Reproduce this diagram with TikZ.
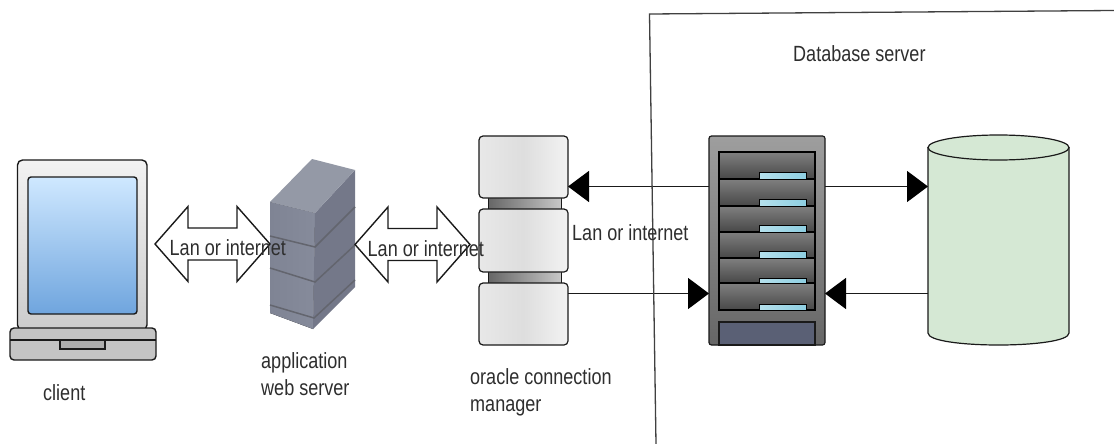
\documentclass[tikz,border=0pt]{standalone}
\usepackage{fontspec}
\setmainfont[FakeStretch=0.82]{Liberation Sans}
\usetikzlibrary{arrows.meta,calc}
\definecolor{lbl}{HTML}{2E2E2E}
\definecolor{ink}{HTML}{1A1A1A}
\definecolor{cylgreen}{HTML}{D5E8D4}
\definecolor{scrT}{HTML}{CFE8FF}
\definecolor{scrB}{HTML}{6FA5DE}
\definecolor{srvTop}{HTML}{9499A6}
\definecolor{srvFrontL}{HTML}{7F8494}
\definecolor{srvFrontR}{HTML}{868B9B}
\definecolor{srvSide}{HTML}{747889}
\definecolor{srvBand}{HTML}{63656E}
\definecolor{ledL}{HTML}{B5E0EC}
\definecolor{ledR}{HTML}{8ECFE2}
\definecolor{panelc}{HTML}{5A6075}
\tikzset{
  txt/.style={font=\fontsize{22}{27}\selectfont, text=lbl, inner sep=0pt, align=left},
  box/.style={rectangle, inner sep=0pt, outer sep=0pt, anchor=north west},
  cblock/.style={box, draw=ink, line width=1.2pt, rounded corners=4pt, left color=black!9, right color=black!5, middle color=black!13, minimum width=89pt},
  cneck/.style={box, draw=ink, line width=1pt, left color=black!60, right color=black!22, minimum width=73pt},
  slot/.style={box, draw=black, line width=1.1pt, top color=black!50, bottom color=black!72, minimum width=96pt},
  led/.style={box, draw=black, line width=1pt, left color=ledL, right color=ledR, minimum width=47pt, minimum height=7pt},
  link/.style={draw=ink, line width=1.5pt, -{Triangle[length=21pt,width=31pt,color=black]}, shorten >=0pt},
  dblbox/.style={box, minimum width=115pt, minimum height=75pt},
  dblline/.style={draw=ink, fill=white, line width=1.4pt, line join=miter},
}
\newcommand{\dblarrow}[1]{%
  \path[dblline] (#1.west) -- ++(33,-37.5) -- ++(0,21.5) -- ($(#1.east)+(-33,-16)$) -- ++(0,-21.5) -- (#1.east)
     -- ++(-33,37.5) -- ++(0,-21.5) -- ($(#1.west)+(33,16)$) -- ++(0,21.5) -- cycle;}
\begin{document}
\begin{tikzpicture}[x=1pt,y=-1pt]
\useasboundingbox (0,0) rectangle (1114,444);
\fill[white] (0,0) rectangle (1114,444);

% laptop
\node[box, draw=ink, line width=1.4pt, rounded corners=5pt, top color=black!5, bottom color=black!20, minimum width=129.5pt, minimum height=170pt] (lid) at (17.5,160) {};
\node[box, draw=ink, line width=1.4pt, rounded corners=3pt, top color=scrT, bottom color=scrB, minimum width=109pt, minimum height=137pt] (screen) at (28,177) {};
\node[box, draw=ink, line width=1.4pt, rounded corners=4pt, fill=black!23, minimum width=146pt, minimum height=32pt] (base) at (10,328) {};
\coordinate (baseLine) at (0,340);
\draw[ink, line width=1.4pt] (base.west |- baseLine) -- (base.east |- baseLine);
\node[box, draw=ink, line width=1.1pt, fill=black!32, minimum width=45pt, minimum height=9pt] (notch) at (60,340) {};

% application server
\coordinate (sA) at (270,202); \coordinate (sB) at (315,213); \coordinate (sC) at (355,170); \coordinate (sD) at (312,159);
\coordinate (sE) at (270,313); \coordinate (sF) at (313,329); \coordinate (sG) at (355,287);
\fill[left color=srvFrontL, right color=srvFrontR] (sA) -- (sB) -- (sF) -- (sE) -- cycle;
\fill[srvSide] (sB) -- (sC) -- (sG) -- (sF) -- cycle;
\fill[srvTop] (sA) -- (sD) -- (sC) -- (sB) -- cycle;
\draw[srvBand, line width=1.5pt] (270,236) -- (315,247) -- (355,207);
\draw[srvBand, line width=1.5pt] (270,268) -- (315,282) -- (355,245);
\draw[srvBand, line width=1.5pt] (270,305) -- (314,318) -- (355,280);

% oracle connection manager
\node[cneck, minimum height=13pt] (n1) at (488,197) {};
\node[cneck, minimum height=13pt] (n2) at (488,271) {};
\node[cblock, minimum height=62pt] (ocmT) at (479,136) {};
\node[cblock, minimum height=63pt] (ocmM) at (479,209) {};
\node[cblock, minimum height=62pt] (ocmB) at (479,283) {};

% rack
\node[box, draw=ink, line width=1.2pt, rounded corners=2.5pt, top color=black!38, bottom color=black!60, minimum width=116pt, minimum height=209pt] (rack) at (709,136) {};
\node[slot, minimum height=27pt] (s1) at (719,152) {};
\node[slot, minimum height=27pt] (s2) at (719,179) {};
\node[slot, minimum height=26pt] (s3) at (719,206) {};
\node[slot, minimum height=26pt] (s4) at (719,232) {};
\node[slot, minimum height=25pt] (s5) at (719,258) {};
\node[slot, minimum height=27pt] (s6) at (719,283) {};
\node[led] (l1) at (759,172) {};
\node[led] (l2) at (759,199) {};
\node[led] (l3) at (759,225) {};
\node[led] (l4) at (759,251) {};
\node[led, minimum height=5pt] (l5) at (759,278) {};
\node[led, minimum height=6pt] (l6) at (759,304) {};
\node[box, draw=ink, line width=1.1pt, fill=panelc, minimum width=96pt, minimum height=23pt] (panel) at (719,322) {};

% database cylinder
\node[box, minimum width=141pt, minimum height=210pt] (cyl) at (928,135) {};
\draw[ink, line width=1.2pt, fill=cylgreen] (928,147) -- (928,333) .. controls (928,349) and (1069,349) .. (1069,333) -- (1069,147);
\draw[ink, line width=1.2pt, fill=cylgreen] (998.5,147.5) ellipse [x radius=70.5, y radius=12.5];

% connectors
\coordinate (rowU) at (0,186.5);
\coordinate (rowL) at (0,293.5);
\draw[link] (rack.west |- rowU) -- (ocmT.east |- rowU);
\draw[link] (rack.east |- rowU) -- (cyl.west |- rowU);
\draw[link] (ocmB.east |- rowL) -- (rack.west |- rowL);
\draw[link] (cyl.west |- rowL) -- (rack.east |- rowL);

% double arrows
\node[dblbox, anchor=center] (dbl1) at (212.5,244) {};
\node[dblbox, anchor=center] (dbl2) at (412.5,244.5) {};
\dblarrow{dbl1}
\dblarrow{dbl2}

% frame
\coordinate (fA) at (1114,10.5);
\coordinate (fB) at (649.5,14);
\coordinate (fC) at (656,444);
\draw[black!75, line width=1.3pt] (fA) -- (fB) -- (fC);

% labels
\node[txt, anchor=base west] (tc) at (43,400) {client};
\node[txt, anchor=base west] (t1) at (169.5,255) {Lan or internet};
\node[txt, anchor=base west] (t2) at (367.5,256) {Lan or internet};
\node[txt, anchor=base west] (t3) at (572,240) {Lan or internet};
\node[txt, anchor=base west] (ta) at (261,368) {application};
\node[txt, anchor=base west] (tb) at (261,395) {web server};
\node[txt, anchor=base west] (to) at (470,384) {oracle connection};
\node[txt, anchor=base west] (tm) at (470,411) {manager};
\node[txt, anchor=base west] (td) at (793,62) {Database server};
\end{tikzpicture}
\end{document}
